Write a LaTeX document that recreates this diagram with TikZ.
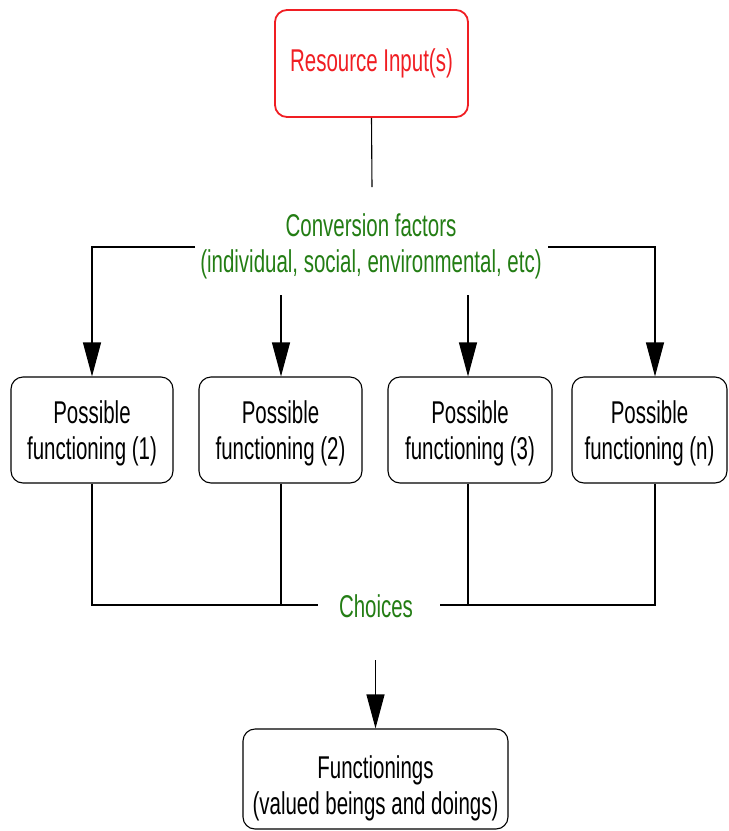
\documentclass[tikz,border=0pt]{standalone}
\usepackage{fontspec}
\setmainfont{Liberation Sans}[FakeStretch=0.65]
\usetikzlibrary{arrows.meta}
\definecolor{resred}{RGB}{240,30,35}
\definecolor{convgreen}{RGB}{35,125,20}
\tikzset{
  box/.style={draw, line width=1.1pt, rounded corners=12pt, align=center, inner sep=0pt},
  lbl/.style={align=center, inner sep=0pt},
  conn/.style={line width=1.1pt},
  arr/.style={line width=1.1pt, -{Triangle[length=34pt,width=18pt]}},
}
\newcommand{\dn}[1]{\rule{0pt}{#1pt}}
\begin{document}
\begin{tikzpicture}[x=1pt,y=-1pt,font=\fontsize{31.5}{36}\selectfont]
\useasboundingbox (0,0) rectangle (729,831);
\node[box, draw=resred, line width=1.8pt, text=resred, minimum width=193pt, minimum height=107pt] (res) at (371.5,63.5) {Resource Input(s)};
\node[lbl, text=convgreen] (conv) at (371,246) {Conversion factors\\(individual, social, environmental, etc)};
\node[box, minimum width=162pt, minimum height=106pt] (p1) at (92,430) {\dn{30}Possible\\functioning (1)};
\node[box, minimum width=163pt, minimum height=106pt] (p2) at (280.5,430) {\dn{30}Possible\\functioning (2)};
\node[box, minimum width=164pt, minimum height=106pt] (p3) at (470,430) {\dn{30}Possible\\functioning (3)};
\node[box, minimum width=155pt, minimum height=106pt] (p4) at (649.5,430) {\dn{30}Possible\\functioning (n)};
\node[lbl, text=convgreen] (ch) at (376,606) {Choices};
\node[box, minimum width=265pt, minimum height=100pt] (fn) at (375.5,779) {\dn{41}Functionings\\(valued beings and doings)};
% coordinates
\coordinate (rs) at (372,187);
\coordinate (cl1) at (195,247);
\coordinate (cl2) at (92,247);
\coordinate (cr1) at (548,247);
\coordinate (cr2) at (655,247);
\coordinate (m2) at (281,295);
\coordinate (m3) at (468,295);
\coordinate (bl) at (92,605);
\coordinate (b2) at (281,605);
\coordinate (bls) at (318,605);
\coordinate (b3) at (468,605);
\coordinate (br) at (655,605);
\coordinate (brs) at (440,605);
\coordinate (cha) at (375.5,660);
% connectors
\draw[conn] (res.south) -- (rs);
\draw[arr] (cl1) -- (cl2) -- (p1.north);
\draw[arr] (cr1) -- (cr2) -- (cr2 |- p4.north);
\draw[arr] (m2) -- (m2 |- p2.north);
\draw[arr] (m3) -- (m3 |- p3.north);
\draw[conn] (p1.south) -- (bl) -- (bls);
\draw[conn] (b2 |- p2.south) -- (b2);
\draw[conn] (b3 |- p3.south) -- (b3);
\draw[conn] (br |- p4.south) -- (br) -- (brs);
\draw[arr] (cha) -- (fn.north);
\end{tikzpicture}
\end{document}
